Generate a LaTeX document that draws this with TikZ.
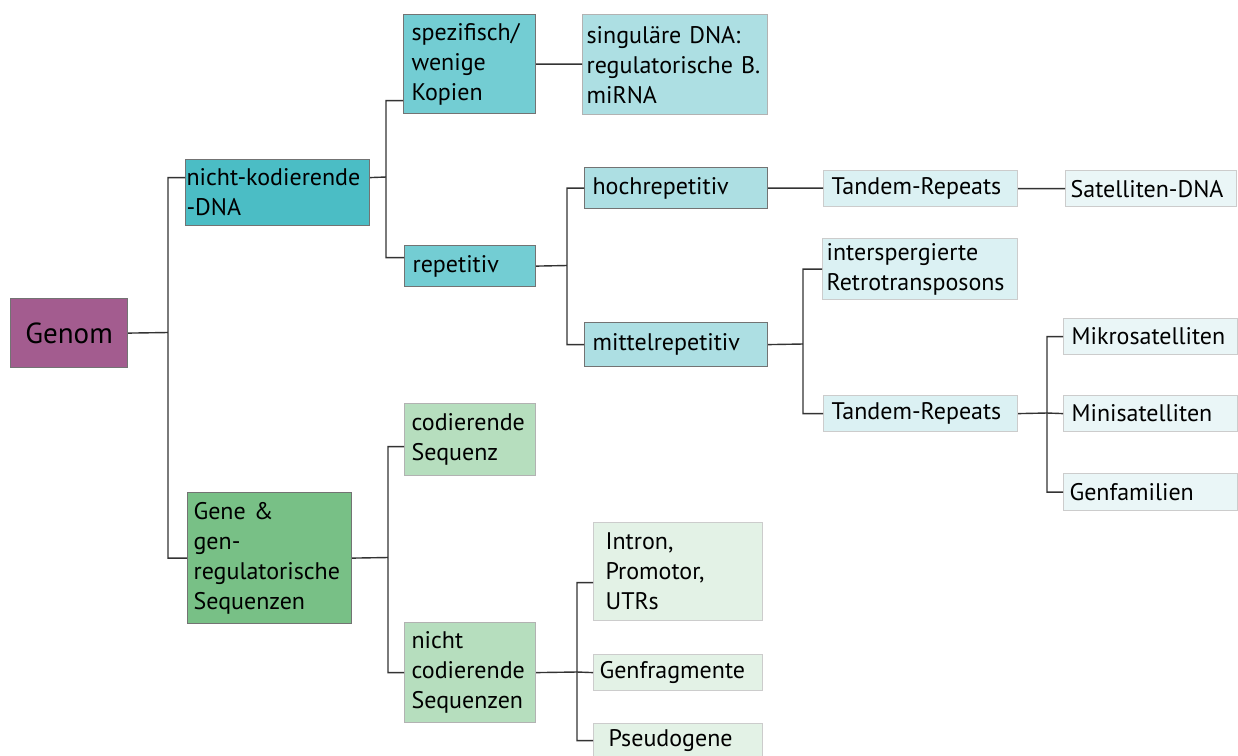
\documentclass[tikz,border=0pt]{standalone}
\usepackage{fontspec}
\setmainfont{PT Sans}
\usepackage{tikz}
\usetikzlibrary{positioning}

\definecolor{genomcol}{HTML}{A35C8F}
\definecolor{cyanA}{HTML}{4BBDC5}
\definecolor{cyanB}{HTML}{73CDD3}
\definecolor{cyanC}{HTML}{ADDFE3}
\definecolor{cyanD}{HTML}{DBF1F3}
\definecolor{cyanE}{HTML}{EAF6F7}
\definecolor{greenA}{HTML}{78C086}
\definecolor{greenB}{HTML}{B6DEBE}
\definecolor{greenC}{HTML}{E3F2E6}

\begin{document}
\begin{tikzpicture}[x=1pt,y=-1pt,font=\fontsize{24}{30}\selectfont]
                  \tikzstyle{box}=[draw=black!55,line width=1.2pt,anchor=north west,inner xsep=8pt,inner ysep=0pt,align=left]
                  \tikzstyle{pale}=[box,draw=black!20]
                  \tikzstyle{conn}=[draw=black!80,line width=1.4pt]

                  \useasboundingbox (0,0) rectangle (1238,755);

                  % root
                  \node[box,fill=genomcol,align=center,minimum width=117pt,minimum height=69pt,font=\fontsize{29}{30}\selectfont] (genom) at (10,298) {Genom};

                  % non-coding branch
                  \node[box,fill=cyanA,inner xsep=1pt,text width=182pt,minimum height=66pt] (nkd) at (185,159) {nicht-kodierende\\-DNA};
                  \node[box,fill=cyanB,text width=116pt,minimum height=99pt] (spz) at (403,14) {spezifisch/\\wenige\\Kopien};
                  \node[box,fill=cyanC,draw=black!30,inner xsep=4pt,text width=177pt,minimum height=100pt] (sing) at (582,14) {singuläre DNA:\\regulatorische B.\\miRNA};
                  \node[box,fill=cyanB,text width=115pt,minimum height=41pt] (rep) at (404,245) {repetitiv};
                  \node[box,fill=cyanC,text width=167pt,minimum height=41pt] (hoch) at (584,167) {hochrepetitiv};
                  \node[pale,fill=cyanD,text width=178pt,minimum height=36pt] (tandA) at (823,170) {Tandem-Repeats};
                  \node[pale,fill=cyanE,inner xsep=5pt,text width=161pt,minimum height=36pt] (sat) at (1065,170) {Satelliten-DNA};
                  \node[box,fill=cyanC,text width=167pt,minimum height=44pt] (mittel) at (584,322) {mittelrepetitiv};
                  \node[pale,fill=cyanD,inner xsep=4pt,text width=187pt,minimum height=61pt] (inter) at (822,238) {interspergierte\\Retrotransposons};
                  \node[pale,fill=cyanD,text width=178pt,minimum height=36pt] (tandB) at (823,395) {Tandem-Repeats};
                  \node[pale,fill=cyanE,text width=158pt,minimum height=36pt] (mikro) at (1063,318) {Mikrosatelliten};
                  \node[pale,fill=cyanE,text width=158pt,minimum height=36pt] (mini) at (1063,395) {Minisatelliten};
                  \node[pale,fill=cyanE,inner xsep=6pt,text width=162pt,minimum height=37pt] (genfam) at (1063,473) {Genfamilien};

                  % gene branch
                  \node[box,fill=greenA,inner xsep=6pt,text width=152pt,minimum height=131pt] (gene) at (187,492) {Gene \&\\gen-\\regulatorische\\Sequenzen};
                  \node[box,fill=greenB,draw=black!30,inner xsep=7pt,text width=117pt,minimum height=72pt] (cod) at (404,403) {codierende\\Sequenz};
                  \node[box,fill=greenB,draw=black!30,inner xsep=7pt,text width=117pt,minimum height=100pt] (ncs) at (404,622) {nicht\\codierende\\Sequenzen};
                  \node[pale,fill=greenC,inner xsep=12pt,text width=145pt,minimum height=98pt] (intron) at (593,522) {Intron,\\Promotor,\\UTRs};
                  \node[pale,fill=greenC,inner xsep=6pt,text width=157pt,minimum height=36pt] (genfrag) at (593,654) {Genfragmente};
                  \node[pale,fill=greenC,inner xsep=15pt,text width=139pt,minimum height=34pt] (pseudo) at (593,723) {Pseudogene};

                  % junctions
                  \coordinate (j1) at (168,332.5);
                  \coordinate (j2) at (386,177);
                  \coordinate (j3) at (567,265.5);
                  \coordinate (j4) at (803,344);
                  \coordinate (j5) at (1047,413);
                  \coordinate (j6) at (388,557.5);
                  \coordinate (j7) at (577,672);

                  \path[conn] (genom.east) -- (j1)
                        ([yshift=15pt]nkd.west) -| (j1) |- (gene.west)
                        ([yshift=15pt]nkd.east) -- (j2)
                        ([yshift=-36.5pt]spz.west) -| (j2) |- ([yshift=8.5pt]rep.west)
                        (spz.east) -- (spz.east -| sing.west)
                        (rep.east) -- (j3)
                        (hoch.west) -| (j3) |- (mittel.west)
                        (hoch.east) -- (hoch.east -| tandA.west)
                        (tandA.east) -- (sat.west)
                        (mittel.east) -- (j4)
                        (inter.west) -| (j4) |- (tandB.west)
                        (tandB.east) -- (j5)
                        (mikro.west) -| (j5) |- (genfam.west)
                        (j5) -- (mini.west)
                        (gene.east) -- (j6)
                        ([yshift=-7pt]cod.west) -| (j6) |- (ncs.west)
                        (ncs.east) -- (j7)
                        ([yshift=-11pt]intron.west) -| (j7) |- (pseudo.west)
                        (j7) -- (genfrag.west);
                \end{tikzpicture}
\end{document}
